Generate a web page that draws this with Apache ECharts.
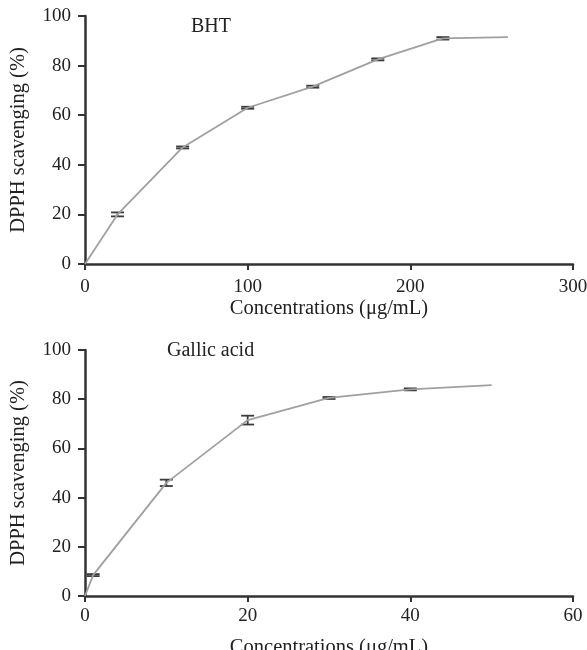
<!DOCTYPE html>
<html>
<head>
<meta charset="utf-8">
<script src="https://cdn.jsdelivr.net/npm/echarts@6/dist/echarts.min.js"></script>
<style>
  html, body { margin: 0; padding: 0; background: #fff; }
  #main { width: 587px; height: 650px; }
</style>
</head>
<body>
<div id="main"></div>
<script>
// BHT panel
var bhtConc = [0, 20, 60, 100, 140, 180, 220, 260];
var bhtScav = [0, 20, 47, 63, 71.5, 82.5, 91, 91.5];
var bhtErr  = [0, 0.8, 0.4, 0.4, 0.4, 0.4, 0.5, 0];

// Gallic acid panel
var gaConc = [0, 1, 10, 20, 30, 40, 50];
var gaScav = [0, 8.5, 46, 71.5, 80.5, 84, 85.7];
var gaErr  = [0, 0.4, 1.3, 1.8, 0.4, 0.4, 0];

var yTicks = [0, 20, 40, 60, 80, 100];
var bhtTicks = [0, 100, 200, 300];
var gaTicks = [0, 20, 40, 60];

var FONT = 'Liberation Serif';
var TXT = '#222';
var AX = '#333';

function pairs(xs, ys) {
  return xs.map(function (x, i) { return [x, ys[i]]; });
}
function errRows(xs, ys, es) {
  var out = [];
  xs.forEach(function (x, i) {
    if (es[i] > 0) out.push([x, ys[i], es[i]]);
  });
  return out;
}

// error bar: vertical stem + caps
function renderErr(params, api) {
  var x = api.value(0), y = api.value(1), e = api.value(2);
  var hi = api.coord([x, y + e]);
  var lo = api.coord([x, y - e]);
  var hw = 6.5;
  var st = { stroke: '#3c3c3c', lineWidth: 1.8 };
  return {
    type: 'group',
    children: [
      { type: 'line', shape: { x1: hi[0], y1: hi[1], x2: lo[0], y2: lo[1] }, style: st },
      { type: 'line', shape: { x1: hi[0] - hw, y1: hi[1], x2: hi[0] + hw, y2: hi[1] }, style: st },
      { type: 'line', shape: { x1: lo[0] - hw, y1: lo[1], x2: lo[0] + hw, y2: lo[1] }, style: st }
    ]
  };
}

function xAxisOf(gridIndex, ticks, labelMargin, nameGap) {
  return {
    type: 'value',
    gridIndex: gridIndex,
    min: ticks[0],
    max: ticks[ticks.length - 1],
    interval: ticks[1] - ticks[0],
    name: 'Concentrations (μg/mL)',
    nameLocation: 'middle',
    nameGap: nameGap,
    nameTextStyle: { fontFamily: FONT, fontSize: 20.5, color: TXT },
    axisLine: { show: true, lineStyle: { color: AX, width: 2.5 } },
    axisTick: { show: true, inside: false, length: 6, lineStyle: { color: AX, width: 2 } },
    axisLabel: { fontFamily: FONT, fontSize: 19, color: TXT, margin: labelMargin },
    splitLine: { show: false }
  };
}

function yAxisOf(gridIndex) {
  return {
    type: 'value',
    gridIndex: gridIndex,
    min: yTicks[0],
    max: yTicks[yTicks.length - 1],
    interval: yTicks[1] - yTicks[0],
    name: 'DPPH scavenging (%)',
    nameLocation: 'middle',
    nameGap: 56,
    nameTextStyle: { fontFamily: FONT, fontSize: 20.5, color: TXT },
    axisLine: { show: true, lineStyle: { color: AX, width: 2.5 } },
    axisTick: { show: true, inside: false, length: 7, lineStyle: { color: AX, width: 2 } },
    axisLabel: { fontFamily: FONT, fontSize: 19, color: TXT, margin: 14 },
    splitLine: { show: false }
  };
}

var chart = echarts.init(document.getElementById('main'));

var option = {
  backgroundColor: '#fff',
  animation: false,
  grid: [
    { left: 85, right: 14, top: 16, height: 248, outerBoundsMode: 'none' },
    { left: 85, right: 14, top: 350, height: 246, outerBoundsMode: 'none' }
  ],
  xAxis: [
    xAxisOf(0, bhtTicks, 14, 33),
    xAxisOf(1, gaTicks, 11, 41)
  ],
  yAxis: [yAxisOf(0), yAxisOf(1)],
  graphic: [
    { type: 'text', left: 191, top: 17, style: { text: 'BHT', font: '20px "Liberation Serif"', fill: TXT } },
    { type: 'text', left: 167, top: 341, style: { text: 'Gallic acid', font: '20px "Liberation Serif"', fill: TXT } }
  ],
  series: [
    {
      type: 'line', xAxisIndex: 0, yAxisIndex: 0,
      data: pairs(bhtConc, bhtScav),
      showSymbol: false, symbol: 'none',
      lineStyle: { color: '#a0a0a0', width: 1.8 }
    },
    {
      type: 'custom', xAxisIndex: 0, yAxisIndex: 0,
      data: errRows(bhtConc, bhtScav, bhtErr),
      renderItem: renderErr, z: 3
    },
    {
      type: 'line', xAxisIndex: 1, yAxisIndex: 1,
      data: pairs(gaConc, gaScav),
      showSymbol: false, symbol: 'none',
      lineStyle: { color: '#a0a0a0', width: 1.8 }
    },
    {
      type: 'custom', xAxisIndex: 1, yAxisIndex: 1,
      data: errRows(gaConc, gaScav, gaErr),
      renderItem: renderErr, z: 3
    }
  ]
};

chart.setOption(option);
</script>
</body>
</html>
